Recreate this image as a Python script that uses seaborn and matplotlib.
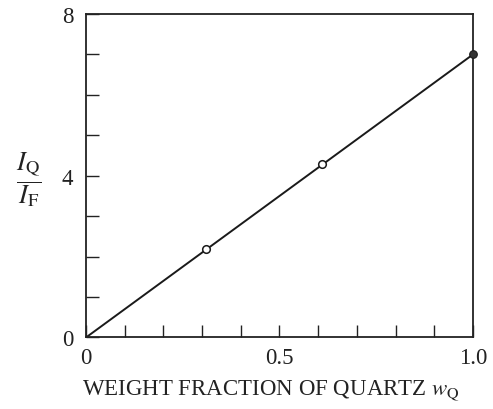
import matplotlib
matplotlib.use("Agg")
import matplotlib.pyplot as plt
import seaborn as sns
import pandas as pd
from matplotlib.ticker import MultipleLocator, FixedLocator

# Calibration line for quartz in a quartz/fluorite mixture
line_w = [0.0, 1.0]
line_ratio = [0.0, 7.0]

# Measured mixtures (open) and pure quartz (filled)
mix_w = [0.31, 0.61]
mix_ratio = [2.2, 4.3]
pure_w = [1.0]
pure_ratio = [7.0]

x_ticks = [0, 0.5, 1.0]
x_tick_labels = ["0", "0.5", "1.0"]
y_ticks = [0, 4, 8]
y_tick_labels = ["0", "4", "8"]

sns.set_theme(style="ticks")
plt.rcParams["font.family"] = ["Liberation Serif", "DejaVu Serif"]
plt.rcParams["mathtext.fontset"] = "stix"

fig = plt.figure(figsize=(4.93, 4.10), dpi=100)
ax = fig.add_axes([0.1744, 0.1744, 0.785, 0.789])

line_df = pd.DataFrame({"w": line_w, "r": line_ratio})
sns.lineplot(data=line_df, x="w", y="r", ax=ax, color="#1a1a1a", linewidth=1.4)

mix_df = pd.DataFrame({"w": mix_w, "r": mix_ratio})
sns.scatterplot(data=mix_df, x="w", y="r", ax=ax, s=30, facecolor="white",
                edgecolor="#1a1a1a", linewidth=1.1, zorder=3, clip_on=False)

pure_df = pd.DataFrame({"w": pure_w, "r": pure_ratio})
sns.scatterplot(data=pure_df, x="w", y="r", ax=ax, s=30, color="#333333",
                edgecolor="#1a1a1a", linewidth=0.8, zorder=4, clip_on=False)

ax.set_xlim(0, 1.0)
ax.set_ylim(0, 8)

ax.xaxis.set_major_locator(FixedLocator(x_ticks))
ax.set_xticklabels(x_tick_labels)
ax.xaxis.set_minor_locator(MultipleLocator(0.1))
ax.yaxis.set_major_locator(FixedLocator(y_ticks))
ax.set_yticklabels(y_tick_labels)
ax.yaxis.set_minor_locator(MultipleLocator(1))

ax.tick_params(axis="both", which="both", direction="in", length=9,
               width=1.0, color="#222222", labelsize=16.5, labelcolor="#222222")
ax.tick_params(axis="x", which="major", pad=7)
ax.tick_params(axis="y", which="major", pad=9)

for side in ["left", "bottom", "top", "right"]:
    ax.spines[side].set_visible(True)
    ax.spines[side].set_color("#222222")
    ax.spines[side].set_linewidth(1.3)

ax.set_xlabel(r"WEIGHT FRACTION OF QUARTZ $w_\mathrm{Q}$", fontsize=16.5,
              color="#222222")
ax.xaxis.set_label_coords(0.478, -0.122)
ax.set_ylabel("")
ax.text(-0.148, 0.49, r"$\dfrac{I_\mathrm{Q}}{I_\mathrm{F}}$", transform=ax.transAxes,
        fontsize=19, color="#222222", ha="center", va="center")

fig.savefig("out.png", dpi=100, facecolor="white")
